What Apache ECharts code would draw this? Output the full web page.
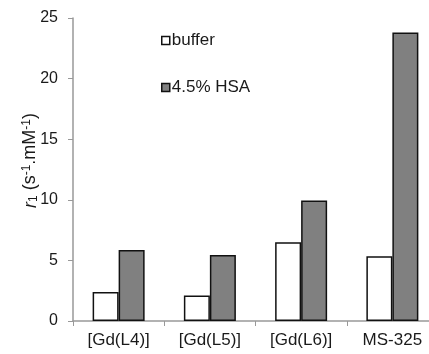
<!DOCTYPE html>
<html>
<head>
<meta charset="utf-8">
<script src="https://cdn.jsdelivr.net/npm/echarts@6/dist/echarts.min.js"></script>
<style>html,body{margin:0;padding:0;background:#fff}#c{width:429px;height:354px}</style>
</head>
<body>
<div id="c"></div>
<script>
var categories = ['[Gd(L4)]', '[Gd(L5)]', '[Gd(L6)]', 'MS-325'];
var bufferValues = [2.4, 2.1, 6.5, 5.35];
var hsaValues = [5.85, 5.45, 9.95, 23.8];
var yTicks = [0, 5, 10, 15, 20, 25];

var chart = echarts.init(document.getElementById('c'));
var font = 'Liberation Sans, Arial, sans-serif';
var txt = '#1a1a1a';
chart.setOption({
  animation: false,
  backgroundColor: '#fff',
  grid: { left: 73, right: -9, top: 18, bottom: 33, outerBoundsMode: 'none', containLabel: false },
  legend: [
    { data: ['buffer'], left: 156, top: 27, icon: 'rect', itemWidth: 8, itemHeight: 8, itemGap: 2,
      itemStyle: { borderWidth: 1.5, borderColor: '#111' },
      textStyle: { fontFamily: font, fontSize: 17, color: txt, padding: [0, 0, 0, -3] } },
    { data: ['4.5% HSA'], left: 156, top: 74, icon: 'rect', itemWidth: 8, itemHeight: 8,
      itemStyle: { borderWidth: 1.5, borderColor: '#111' },
      textStyle: { fontFamily: font, fontSize: 17, color: txt, padding: [0, 0, 0, -3] } }
  ],
  xAxis: {
    type: 'category',
    data: categories,
    axisLine: { lineStyle: { color: '#999', width: 1.5 } },
    axisTick: { show: true, alignWithLabel: false, length: 5, lineStyle: { color: '#999' } },
    axisLabel: { fontFamily: font, fontSize: 17, color: txt, margin: 11 }
  },
  yAxis: {
    type: 'value',
    min: yTicks[0], max: yTicks[yTicks.length - 1], interval: 5,
    splitLine: { show: false },
    axisLine: { show: true, lineStyle: { color: '#999', width: 1.5 } },
    axisTick: { show: true, length: 5, lineStyle: { color: '#999' } },
    axisLabel: { fontFamily: font, fontSize: 16, color: txt, margin: 15 },
    name: '{i|r}{sub|1}{n| (s}{sup|-1}{n|.mM}{sup|-1}{n|)}',
    nameLocation: 'middle',
    nameRotate: 90,
    nameGap: 33,
    nameMoveOverlap: false,
    nameTextStyle: {
      padding: [0, 0, 0, 18],
      rich: {
        i: { fontFamily: font, fontSize: 18, fontStyle: 'italic', color: txt },
        n: { fontFamily: font, fontSize: 18, color: txt },
        sub: { fontFamily: font, fontSize: 12, color: txt, verticalAlign: 'bottom', padding: [7, 0, 0, 0] },
        sup: { fontFamily: font, fontSize: 12, color: txt, verticalAlign: 'top', padding: [0, 0, 7, 0] }
      }
    }
  },
  series: [
    { name: 'buffer', type: 'bar', data: bufferValues, barWidth: 26, barGap: '0%',
      itemStyle: { color: '#fff', borderColor: '#111', borderWidth: 1.5 } },
    { name: '4.5% HSA', type: 'bar', data: hsaValues, barWidth: 26, barGap: '0%',
      itemStyle: { color: '#808080', borderColor: '#111', borderWidth: 1.5 } }
  ]
});
</script>
</body>
</html>
